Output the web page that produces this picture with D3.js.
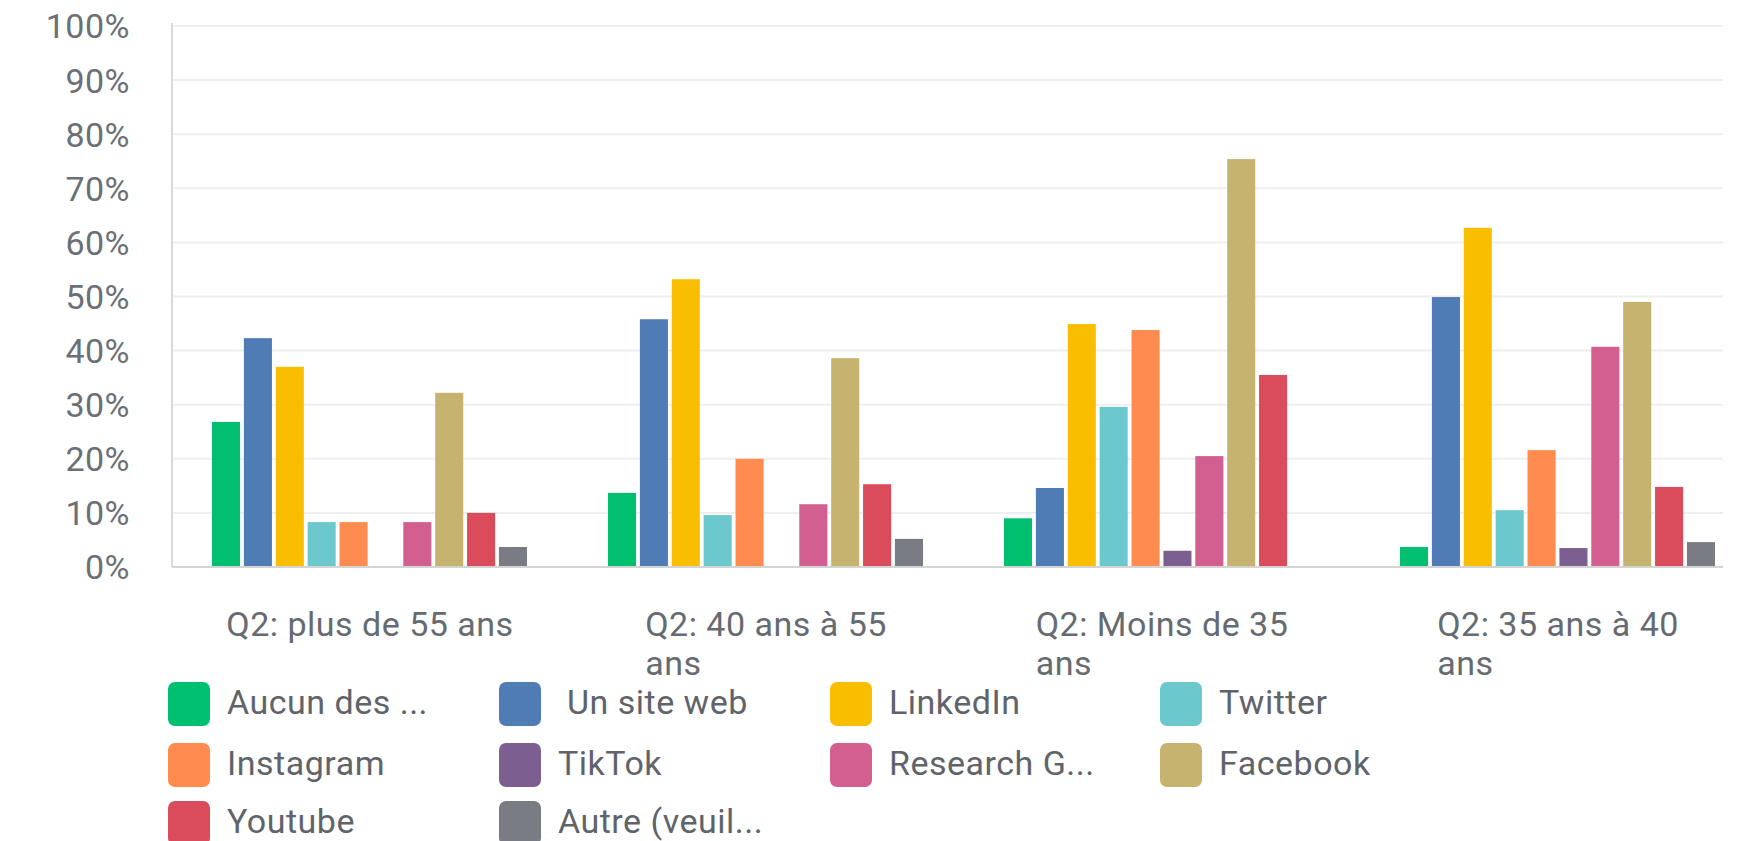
<!DOCTYPE html>
<html>
<head>
<meta charset="utf-8">
<script src="https://cdn.jsdelivr.net/npm/d3@7"></script>
<style>
  html, body { margin: 0; padding: 0; background: #ffffff; }
  svg { display: block; }
  text { font-family: Roboto, "Noto Sans", sans-serif; letter-spacing: 0.5px; }
</style>
</head>
<body>
<svg id="chart" width="1757" height="841"></svg>
<script>
// ---- data ----
const categories = ["Q2: plus de 55 ans", "Q2: 40 ans à 55 ans", "Q2: Moins de 35 ans", "Q2: 35 ans à 40 ans"];
const seriesNames = ["Aucun des ...", " Un site web", "LinkedIn", "Twitter", "Instagram", "TikTok", "Research G...", "Facebook", "Youtube", "Autre (veuil..."];
const seriesColors = ["#00bf6f", "#507cb6", "#f9be00", "#6bc8cd", "#ff8b4f", "#7d5e90", "#d25f90", "#c5b36f", "#da4c5b", "#797c82"];
const aucun     = [26.8, 13.7, 9.0, 3.7];
const siteWeb   = [42.3, 45.8, 14.6, 49.9];
const linkedin  = [37.0, 53.2, 44.9, 62.7];
const twitter   = [8.3, 9.6, 29.6, 10.5];
const instagram = [8.3, 20.0, 43.8, 21.6];
const tiktok    = [0, 0, 3.0, 3.5];
const research  = [8.3, 11.6, 20.5, 40.7];
const facebook  = [32.2, 38.6, 75.4, 49.0];
const youtube   = [10.0, 15.3, 35.5, 14.8];
const autre     = [3.7, 5.2, 0, 4.6];
const yTicks = [0, 10, 20, 30, 40, 50, 60, 70, 80, 90, 100];

const seriesValues = [aucun, siteWeb, linkedin, twitter, instagram, tiktok, research, facebook, youtube, autre];

// ---- layout ----
const svg = d3.select("#chart");
const plotLeft = 172, plotRight = 1723, plotTop = 26, plotBottom = 567;
const fontSize = 34;

const y = d3.scaleLinear().domain([0, 100]).range([plotBottom, plotTop]);
const x0 = d3.scaleBand().domain(categories).range([plotLeft, 1756]).paddingInner(0).paddingOuter(0);
const x1 = d3.scaleBand().domain(seriesNames).range([40, 355]).paddingInner(0.12).paddingOuter(0);
const color = d3.scaleOrdinal().domain(seriesNames).range(seriesColors);

// gridlines
svg.append("g").selectAll("line")
  .data(yTicks.filter(t => t > 0))
  .join("line")
  .attr("x1", plotLeft).attr("x2", plotRight)
  .attr("y1", d => y(d)).attr("y2", d => y(d))
  .attr("stroke", "#eeeeee").attr("stroke-width", 2);

// y axis labels
const yAxis = d3.axisLeft(y).tickValues(yTicks).tickFormat(d => d + "%").tickSize(0).tickPadding(0);
const yg = svg.append("g").attr("transform", `translate(130,0)`).call(yAxis);
yg.select(".domain").remove();
yg.selectAll("text")
  .attr("font-size", fontSize)
  .attr("font-family", null)
  .attr("fill", "#6b6f76")
  .attr("dy", "0.35em")
  .attr("x", 0);

// bars
const data = [];
categories.forEach((c, ci) => {
  seriesNames.forEach((s, si) => {
    data.push({ cat: c, series: s, value: seriesValues[si][ci] });
  });
});
svg.append("g").selectAll("rect")
  .data(data.filter(d => d.value > 0))
  .join("rect")
  .attr("x", d => x0(d.cat) + x1(d.series))
  .attr("y", d => y(d.value))
  .attr("width", x1.bandwidth())
  .attr("height", d => y(0) - y(d.value))
  .attr("fill", d => color(d.series));

// axis lines
svg.append("line")
  .attr("x1", plotLeft).attr("x2", plotLeft)
  .attr("y1", 23).attr("y2", plotBottom)
  .attr("stroke", "#d9d9d9").attr("stroke-width", 2);
svg.append("line")
  .attr("x1", plotLeft).attr("x2", plotRight)
  .attr("y1", plotBottom).attr("y2", plotBottom)
  .attr("stroke", "#d4d4d4").attr("stroke-width", 2);

// x category labels (wrapped, block centered, lines left-aligned)
const maxLabelWidth = 297;
const labelG = svg.append("g");
categories.forEach(c => {
  const t = labelG.append("text").attr("font-size", fontSize).attr("fill", "#666a71");
  const words = c.split(" ");
  const lines = [];
  let line = [];
  const probe = labelG.append("text").attr("font-size", fontSize).attr("visibility", "hidden");
  words.forEach(w => {
    const test = line.concat([w]).join(" ");
    probe.text(test);
    if (probe.node().getComputedTextLength() > maxLabelWidth && line.length) {
      lines.push(line.join(" "));
      line = [w];
    } else {
      line.push(w);
    }
  });
  lines.push(line.join(" "));
  let blockW = 0;
  lines.forEach(l => { probe.text(l); blockW = Math.max(blockW, probe.node().getComputedTextLength()); });
  probe.remove();
  const cx = x0(c) + x0.bandwidth() / 2;
  const left = cx - blockW / 2;
  lines.forEach((l, i) => {
    t.append("tspan").attr("x", left).attr("y", 636 + i * 39).text(l);
  });
});

// legend
const legendCols = [168, 499, 830, 1160];
const legendRows = [682, 743, 801];
const lg = svg.append("g");
seriesNames.forEach((s, i) => {
  const col = i % 4, row = Math.floor(i / 4);
  const gx = legendCols[col], gy = legendRows[row];
  lg.append("rect")
    .attr("x", gx).attr("y", gy)
    .attr("width", 42).attr("height", 44)
    .attr("rx", 7).attr("ry", 7)
    .attr("fill", color(s));
  lg.append("text")
    .attr("x", gx + 59).attr("y", gy + 32)
    .attr("font-size", fontSize)
    .attr("fill", "#5f636a")
    .style("white-space", "pre")
    .text(s);
});
</script>
</body>
</html>
